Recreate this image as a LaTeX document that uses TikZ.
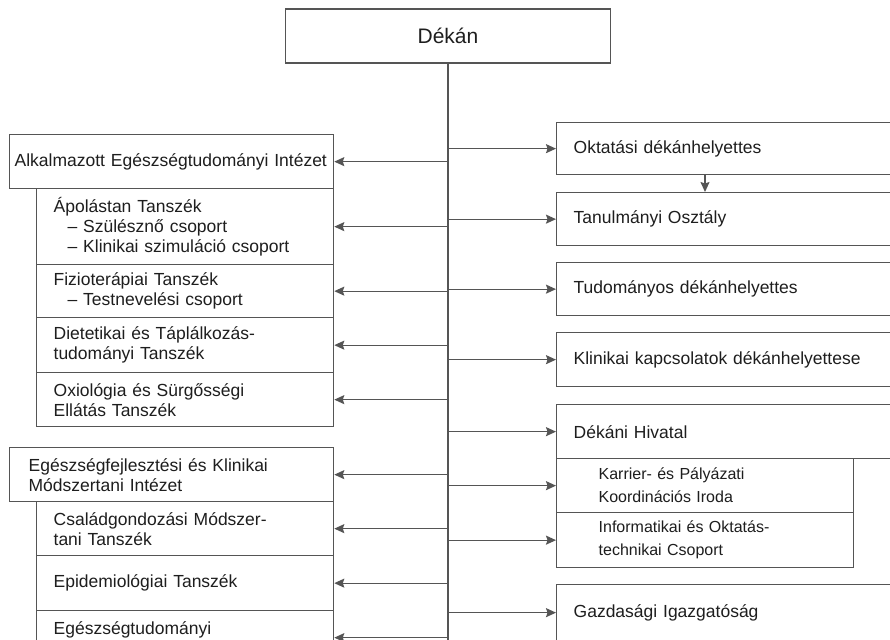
\documentclass[tikz,border=0pt]{standalone}
\usepackage{fontspec}
\setmainfont{Liberation Sans}
\usetikzlibrary{arrows.meta}
\definecolor{linec}{HTML}{555555}
\definecolor{txtc}{HTML}{1E1E1E}
\tikzset{
  box/.style={draw=linec, line width=1.3pt, rectangle, inner ysep=0pt, text=txtc,
    font=\fontsize{17.5}{20}\selectfont, align=left, anchor=north west},
  lbox/.style={box, inner xsep=17pt, text width=263pt, minimum width=297pt},
  rbox/.style={box, inner xsep=17pt, text width=310pt, minimum width=344pt},
  sbox/.style={box, inner xsep=42pt, text width=213pt, minimum width=297pt,
    font=\fontsize{16}{23}\selectfont},
  arr/.style={draw=linec, line width=1.3pt, -{Stealth[length=10pt,width=9pt,inset=1.5pt]}},
  conn/.style={draw=linec, line width=1.3pt}
}
\begin{document}
\begin{tikzpicture}[x=1pt,y=-1pt]
\useasboundingbox (0,0) rectangle (890,639);
\clip (0,0) rectangle (890,639);
\fill[white] (0,0) rectangle (890,639);

% Dean
\node[box, anchor=center, align=center, minimum width=325pt, minimum height=54pt,
      font=\fontsize{21}{24}\selectfont] (dekan) at (448,36) {Dékán};
\coordinate (bot) at (448,660);
\coordinate (kx) at (705,0);

% Left group 1
\node[box, inner xsep=5pt, text width=314pt, minimum width=324pt, minimum height=54pt] (a1) at (9,134) {Alkalmazott Egészségtudományi Intézet};
\node[lbox, minimum height=76pt] (a2) at (36,188) {Ápolástan Tanszék\\\hspace*{14pt}– Szülésznő csoport\\\hspace*{14pt}– Klinikai szimuláció csoport};
\node[lbox, minimum height=53pt] (a3) at (36,264) {Fizioterápiai Tanszék\\\hspace*{14pt}– Testnevelési csoport};
\node[lbox, minimum height=55pt] (a4) at (36,317) {Dietetikai és Táplálkozás-\\tudományi Tanszék};
\node[lbox, minimum height=54pt] (a5) at (36,372) {Oxiológia és Sürgősségi\\Ellátás Tanszék};

% Left group 2
\node[box, inner xsep=19pt, text width=286pt, minimum width=324pt, minimum height=54pt] (b1) at (9,447) {Egészségfejlesztési és Klinikai\\Módszertani Intézet};
\node[lbox, minimum height=54pt] (b2) at (36,501) {Családgondozási Módszer-\\tani Tanszék};
\node[lbox, minimum height=55pt] (b3) at (36,555) {Epidemiológiai Tanszék};
\node[lbox, minimum height=54pt] (b4) at (36,610) {Egészségtudományi\\\phantom{x}};

% Right column
\node[rbox, minimum height=52pt] (r1) at (556,122) {Oktatási dékánhelyettes};
\node[rbox, minimum height=53pt] (r2) at (556,192) {Tanulmányi Osztály};
\node[rbox, minimum height=53pt] (r3) at (556,262) {Tudományos dékánhelyettes};
\node[rbox, minimum height=54pt] (r4) at (556,332) {Klinikai kapcsolatok dékánhelyettese};
\node[rbox, minimum height=54pt] (r5) at (556,404) {Dékáni Hivatal};
\node[sbox, minimum height=54pt] (r6) at (556,458) {Karrier- és Pályázati\\Koordinációs Iroda};
\node[sbox, minimum height=55pt] (r7) at (556,512) {Informatikai és Oktatás-\\technikai Csoport};
\node[rbox, minimum height=56pt] (r8) at (556,584) {Gazdasági Igazgatóság};

% Trunk
\draw[conn] (dekan.south) -- (bot);

% Left arrows
\foreach \n in {a1,a2,a3,a4,a5,b1,b2,b3,b4}
  \draw[arr] (dekan.south |- \n.east) -- (\n.east);

% Right arrows
\foreach \n in {r1,r2,r3,r4,r5,r6,r7,r8}
  \draw[arr] (dekan.south |- \n.west) -- (\n.west);

% Oktatási -> Tanulmányi
\draw[arr] (r1.south -| kx) -- (r2.north -| kx);
\end{tikzpicture}
\end{document}
